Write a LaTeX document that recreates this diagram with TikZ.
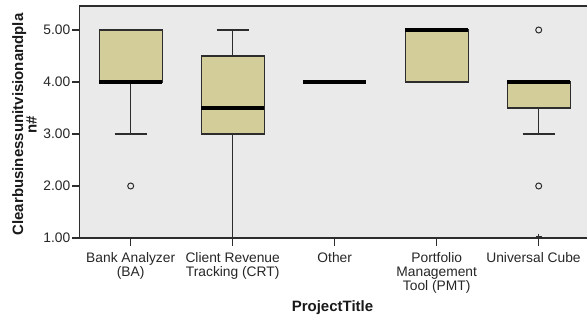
\documentclass[tikz,border=0pt]{standalone}
\usepackage{fontspec}
\setmainfont{Liberation Sans}
\definecolor{bggray}{RGB}{234,234,234}
\definecolor{boxfill}{RGB}{211,206,153}
\definecolor{linegray}{RGB}{45,45,45}
\begin{document}
\begin{tikzpicture}[x=1pt,y=-1pt,
  axisline/.style={draw=linegray,line width=1.1pt},
  boxstyle/.style={draw=linegray,fill=boxfill,line width=1.1pt},
  whisk/.style={draw=linegray,line width=1.1pt},
  median/.style={draw=black,line width=3.2pt},
  outl/.style={draw=linegray,line width=1pt,fill=bggray},
  ticklab/.style={anchor=east,inner sep=0pt,font=\fontsize{13.8}{14.3}\selectfont,text=black!85},
  catlab/.style={anchor=north,inner sep=0pt,align=center,font=\fontsize{13.8}{14.3}\selectfont,text=black!85},
  titlelab/.style={inner sep=0pt,font=\fontsize{15}{13}\selectfont\bfseries,text=black!90}]
\useasboundingbox (0,0) rectangle (587,320);
% plot area
\fill[bggray] (79.5,6) rectangle (588,238);
\draw[axisline] (588,6) -- (79.5,6) -- (79.5,238) -- (588,238);
% y ticks
\foreach \v/\yy in {5.00/30,4.00/82,3.00/134,2.00/186,1.00/238}{
  \draw[axisline] (72,\yy) -- (79.5,\yy);
  \node[ticklab] (yt\yy) at (70.5,\yy) {\v};
}
% x ticks
\foreach \xx in {130.7,232.7,334.7,436.7,538.7}{
  \draw[axisline] (\xx,238) -- (\xx,246);
}
% BA
\draw[whisk] (130.7,82) -- (130.7,134);
\draw[whisk] (114.7,134) -- (146.7,134);
\draw[boxstyle] (99.2,30) rectangle (162.2,82);
\draw[median] (99.2,82) -- (162.2,82);
\draw[outl] (130.7,186) circle (3pt);
% CRT
\draw[whisk] (232.7,30) -- (232.7,56);
\draw[whisk] (216.7,30) -- (248.7,30);
\draw[whisk] (232.7,134) -- (232.7,238);
\draw[boxstyle] (201.2,56) rectangle (264.2,134);
\draw[median] (201.2,108) -- (264.2,108);
% Other
\draw[median] (303.2,82) -- (366.2,82);
% PMT
\draw[boxstyle] (405.2,30) rectangle (468.2,82);
\draw[median] (405.2,30) -- (468.2,30);
% Universal Cube
\draw[whisk] (538.7,108) -- (538.7,134);
\draw[whisk] (522.7,134) -- (554.7,134);
\draw[boxstyle] (507.2,82) rectangle (570.2,108);
\draw[median] (507.2,82) -- (570.2,82);
\draw[outl] (538.7,30) circle (3pt);
\draw[outl] (538.7,186) circle (3pt);
\draw[linegray,line width=1pt] (538.7,234) -- (538.7,242) (535.5,236.5) -- (541.9,236.5);
% category labels
\node[catlab] (cba) at (130.7,252) {Bank Analyzer\\(BA)};
\node[catlab] (ccrt) at (232.7,252) {Client Revenue\\Tracking (CRT)};
\node[catlab] (coth) at (334.7,252) {Other};
\node[catlab] (cpmt) at (436.7,252) {Portfolio\\Management\\Tool (PMT)};
\node[catlab] (cuc) at (533.5,252) {Universal Cube};
% axis titles
\node[titlelab] (xtitle) at (332.5,308) {ProjectTitle};
\node[titlelab,rotate=90,align=center,font=\fontsize{15}{13.5}\selectfont\bfseries] (ytitle) at (24.5,124.5) {Clearbusinessunitvisionandpla\\n\#};
\end{tikzpicture}
\end{document}
